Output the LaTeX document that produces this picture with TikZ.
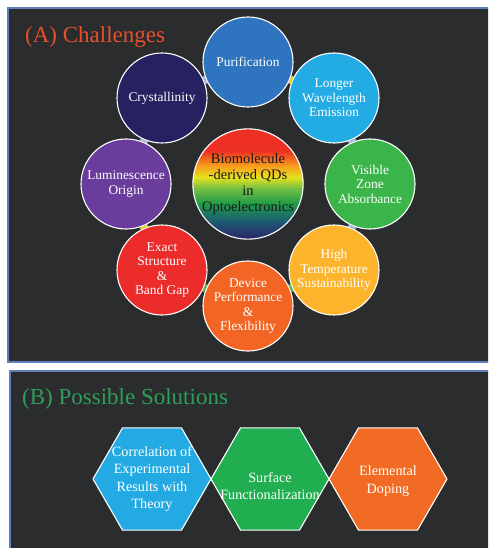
\documentclass[tikz,border=0pt]{standalone}
\usepackage{fontspec}
\setmainfont{Liberation Serif}
\usetikzlibrary{shapes.geometric}
\definecolor{panelbg}{HTML}{2B2C2E}
\definecolor{panelframe}{HTML}{5E7EBC}
\definecolor{titleA}{HTML}{E8502A}
\definecolor{titleB}{HTML}{2E9E5A}
\definecolor{cPur}{HTML}{2E74BE}
\definecolor{cCry}{HTML}{262262}
\definecolor{cLon}{HTML}{22ACE3}
\definecolor{cVis}{HTML}{3BB54A}
\definecolor{cLum}{HTML}{6A3D9C}
\definecolor{cExa}{HTML}{EC2B2B}
\definecolor{cHig}{HTML}{FBB42C}
\definecolor{cDev}{HTML}{F26524}
\definecolor{lkBlue}{HTML}{A3BDE0}
\definecolor{lkYellow}{HTML}{F2D31B}
\definecolor{lkGreen}{HTML}{4CB848}
\definecolor{hBlue}{HTML}{24AAE2}
\definecolor{hGreen}{HTML}{20AE50}
\definecolor{hOrange}{HTML}{F26B24}
\definecolor{rbNavy}{HTML}{2A2368}
\definecolor{rbTeal}{HTML}{1D5A72}
\definecolor{rbGreen}{HTML}{1F9C48}
\definecolor{rbLime}{HTML}{72BE44}
\definecolor{rbYellow}{HTML}{E6E21E}
\definecolor{rbOrange}{HTML}{F7A11D}
\definecolor{rbRed}{HTML}{EE3124}
\pgfdeclareverticalshading{rainbow}{100bp}{color(0bp)=(rbNavy); color(25bp)=(rbNavy); color(33bp)=(rbTeal); color(41bp)=(rbGreen); color(48bp)=(rbLime); color(53bp)=(rbYellow); color(58bp)=(rbOrange); color(65bp)=(rbRed); color(100bp)=(rbRed)}
\pgfdeclarelayer{bg}
\pgfdeclarelayer{links}
\pgfsetlayers{bg,links,main}
\begin{document}
\begin{tikzpicture}[x=1pt,y=-1pt,
  panel/.style={fill=panelbg,draw=panelframe,line width=1.5pt},
  ttl/.style={anchor=base west,inner sep=0pt,font=\fontsize{23}{27}\selectfont},
  bub/.style={circle,draw=white,line width=1.1pt,minimum size=90pt,inner sep=0pt,
    text=white,align=center,font=\fontsize{13.4}{14.5}\selectfont},
  hub/.style={circle,draw=white,line width=1.1pt,minimum size=110pt,inner sep=0pt,
    shading=rainbow,text=black!90,align=center,font=\fontsize{14.5}{16}\selectfont},
  lnk/.style={line width=8pt},
  hexa/.style={regular polygon,regular polygon sides=6,minimum size=118pt,inner sep=0pt,
    draw=white,line width=1.1pt},
  hextxt/.style={text=white,align=center,inner sep=0pt,font=\fontsize{14.2}{17.3}\selectfont}
]
\useasboundingbox (0,0) rectangle (488,548);
\begin{pgfonlayer}{bg}
  \begin{scope}
    \clip (0,0) rectangle (488,548);
    \fill[white] (0,0) rectangle (488,548);
    \draw[panel] (8,8) rectangle (510,362);
    \draw[panel] (10,371) rectangle (510,560);
  \end{scope}
\end{pgfonlayer}
\node[ttl,text=titleA] (tA) at (25,43) {(A) Challenges};
\node[ttl,text=titleB] (tB) at (22,404) {(B) Possible Solutions};

\node[hub] (hub) at (248,184) {Biomolecule\\-derived QDs\\in\\Optoelectronics};
\node[bub,fill=cPur] (pur) at (248,62) {Purification};
\node[bub,fill=cLon] (lon) at (334,98) {Longer\\Wavelength\\Emission};
\node[bub,fill=cVis] (vis) at (370,184) {Visible\\Zone\\Absorbance};
\node[bub,fill=cHig] (hig) at (334,270) {High\\Temperature\\Sustainability};
\node[bub,fill=cDev] (dev) at (248,306) {Device\\Performance\\\&\\Flexibility};
\node[bub,fill=cExa] (exa) at (162,270) {Exact\\Structure\\\&\\Band Gap};
\node[bub,fill=cLum] (lum) at (126,184) {Luminescence\\Origin};
\node[bub,fill=cCry] (cry) at (162,98) {Crystallinity};

\begin{pgfonlayer}{links}
  \draw[lnk,lkYellow] (pur) -- (lon);
  \draw[lnk,lkBlue] (lon) -- (vis);
  \draw[lnk,lkBlue] (vis) -- (hig);
  \draw[lnk,lkGreen] (hig) -- (dev);
  \draw[lnk,lkGreen] (dev) -- (exa);
  \draw[lnk,lkYellow] (exa) -- (lum);
  \draw[lnk,lkBlue] (lum) -- (cry);
  \draw[lnk,lkBlue] (cry) -- (pur);
\end{pgfonlayer}

\node[hexa,fill=hBlue] (h1) at (152,479) {};
\node[hexa,fill=hGreen] (h2) at (270,479) {};
\node[hexa,fill=hOrange] (h3) at (388,479) {};
\node[hextxt] (t1) at (h1.center) {Correlation of\\Experimental\\Results with\\Theory};
\node[hextxt] (t2) at ([yshift=-7pt]h2.center) {Surface\\Functionalization};
\node[hextxt] (t3) at ([yshift=-2pt]h3.center) {Elemental\\Doping};
\end{tikzpicture}
\end{document}
